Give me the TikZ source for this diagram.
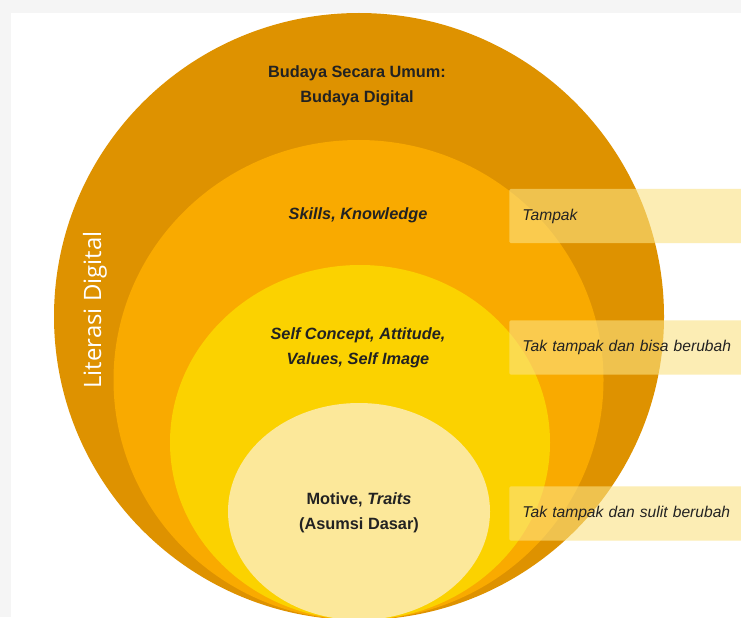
\documentclass[tikz,border=0pt]{standalone}
\usepackage{fontspec}
\setmainfont{Liberation Sans}
\newfontfamily\sidefont{Open Sans}
\definecolor{ringa}{RGB}{222,146,0}
\definecolor{ringb}{RGB}{249,170,0}
\definecolor{ringc}{RGB}{251,210,0}
\definecolor{ringd}{RGB}{252,232,154}
\definecolor{tagfill}{RGB}{251,226,130}
\definecolor{ink}{RGB}{34,34,34}
\tikzset{
  lbl/.style={text=ink, font=\bfseries\fontsize{11.6}{17.8}\selectfont, align=center},
  tag/.style={anchor=west, fill=tagfill, fill opacity=0.6, text opacity=1, rounded corners=1pt,
    minimum height=1.35cm, inner xsep=0.33cm, text width=5.8cm, align=left,
    text=ink, font=\itshape\fontsize{11.1}{13}\selectfont}
}
\begin{document}
\begin{tikzpicture}[x=0.025cm,y=-0.025cm]
  \useasboundingbox (0,0) rectangle (741,617);
  \clip (0,0) rectangle (741,617);
  \fill[black!4] (0,0) rectangle (741,617);
  \fill[white] (11,13) rectangle (741,617);

  % rings
  \fill[ringa] (359,316.5) ellipse [x radius=305, y radius=303.5];
  \fill[ringb] (358.5,380) ellipse [x radius=245, y radius=240];
  \fill[ringc] (360,442.5) ellipse [x radius=190, y radius=177.5];
  \fill[ringd] (359,511.5) ellipse [x radius=131, y radius=108.5];

  \node (side) at (95,310) [rotate=90, text=white, font=\sidefont\fontsize{17}{20}\selectfont] {Literasi Digital};

  \node (l1) at (357,86) [lbl] {Budaya Secara Umum:\\Budaya Digital};
  \node (l2) at (358,215) [lbl] {\itshape Skills, Knowledge};
  \node (l3) at (358,348) [lbl] {\itshape Self Concept, Attitude,\\\itshape Values, Self Image};
  \node (l4) at (359,513) [lbl] {Motive, \textit{Traits}\\(Asumsi Dasar)};

  \node (t1) at (509,216) [tag] {Tampak};
  \node (t2) at (509,347.5) [tag] {Tak tampak dan bisa berubah};
  \node (t3) at (509,513.5) [tag] {Tak tampak dan sulit berubah};
\end{tikzpicture}
\end{document}
